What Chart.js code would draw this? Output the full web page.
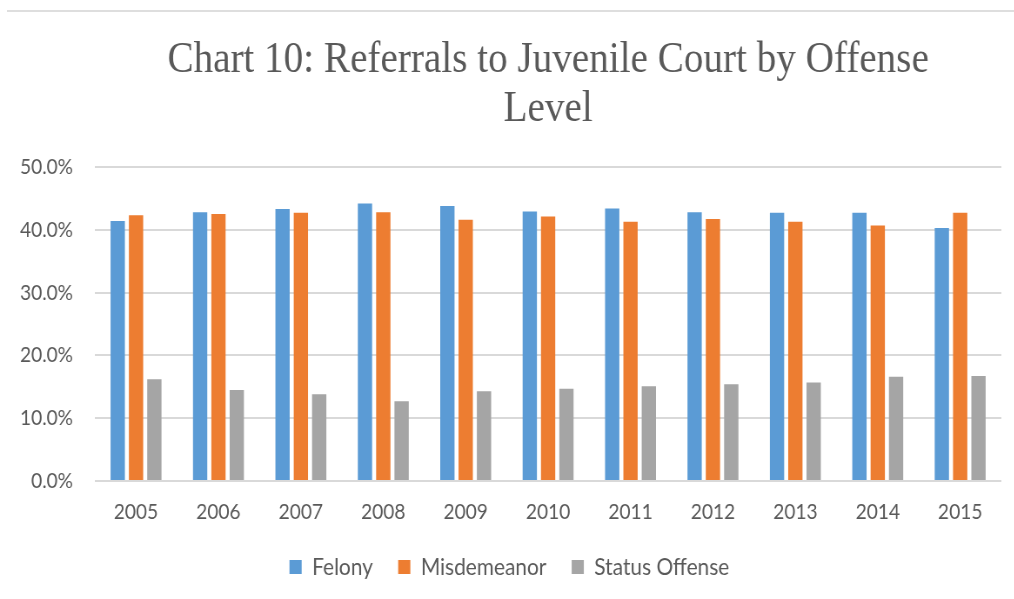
<!DOCTYPE html>
<html>
<head>
<meta charset="utf-8">
<script src="https://cdn.jsdelivr.net/npm/chart.js@4/dist/chart.umd.min.js"></script>
<style>
  html, body { margin: 0; padding: 0; background: #ffffff; overflow: hidden; }
  body { width: 1014px; height: 599px; position: relative; }
  #topline { position: absolute; left: 7px; top: 10px; width: 1007px; height: 2px; background: #dedede; }
  #wrap { position: absolute; left: 0; top: 0; width: 1166px; height: 599px; transform: scaleX(0.87); transform-origin: 0 0; }
</style>
</head>
<body>
<div id="topline"></div>
<div id="wrap"><canvas id="chart"></canvas></div>
<script>
const titleLines = ["Chart 10: Referrals to Juvenile Court by Offense", "Level"];
const years = ["2005", "2006", "2007", "2008", "2009", "2010", "2011", "2012", "2013", "2014", "2015"];
const felony = [41.4, 42.8, 43.3, 44.2, 43.8, 42.9, 43.4, 42.8, 42.7, 42.7, 40.3];
const misdemeanor = [42.3, 42.5, 42.7, 42.8, 41.6, 42.1, 41.3, 41.7, 41.3, 40.7, 42.7];
const statusOffense = [16.2, 14.5, 13.8, 12.7, 14.3, 14.7, 15.1, 15.4, 15.7, 16.6, 16.7];
const seriesNames = ["Felony", "Misdemeanor", "Status Offense"];
const yTicks = [0, 10, 20, 30, 40, 50];

const textColor = "#595959";
const labelFont = { family: "Lato", size: 22 };
const legendFont = { family: "Lato", size: 24 };

new Chart(document.getElementById("chart"), {
  type: "bar",
  data: {
    labels: years,
    datasets: [
      { label: seriesNames[0], data: felony, backgroundColor: "#5b9bd5" },
      { label: seriesNames[1], data: misdemeanor, backgroundColor: "#ed7d31" },
      { label: seriesNames[2], data: statusOffense, backgroundColor: "#a5a5a5" }
    ]
  },
  options: {
    responsive: true,
    maintainAspectRatio: false,
    animation: false,
    datasets: { bar: { categoryPercentage: 0.667, barPercentage: 0.78, borderWidth: 0 } },
    layout: { padding: { left: 20, right: 15, top: 10, bottom: 10 } },
    plugins: {
      tooltip: { enabled: false },
      title: {
        display: true,
        text: titleLines,
        fullSize: false,
        color: textColor,
        font: { family: "Liberation Serif", size: 45, weight: "normal", lineHeight: 1.1 },
        padding: { top: 25, bottom: 33 }
      },
      legend: {
        position: "bottom",
        labels: {
          color: textColor,
          font: legendFont,
          boxWidth: 14,
          boxHeight: 14,
          padding: 29
        }
      }
    },
    scales: {
      x: {
        grid: { display: false, drawTicks: false },
        border: { display: false },
        ticks: { color: textColor, font: labelFont, padding: 18, maxRotation: 0 },
        afterFit: (scale) => { scale.height = 45; }
      },
      y: {
        min: yTicks[0],
        max: yTicks[yTicks.length - 1],
        afterBuildTicks: (scale) => { scale.ticks = yTicks.map(v => ({ value: v })); },
        grid: { color: "#d9d9d9", lineWidth: 2, drawTicks: false },
        border: { display: false },
        ticks: {
          color: textColor,
          font: labelFont,
          padding: 25,
          callback: (v) => Number(v).toFixed(1) + "%"
        },
        afterFit: (scale) => { scale.width = 89; }
      }
    }
  }
});
</script>
</body>
</html>
